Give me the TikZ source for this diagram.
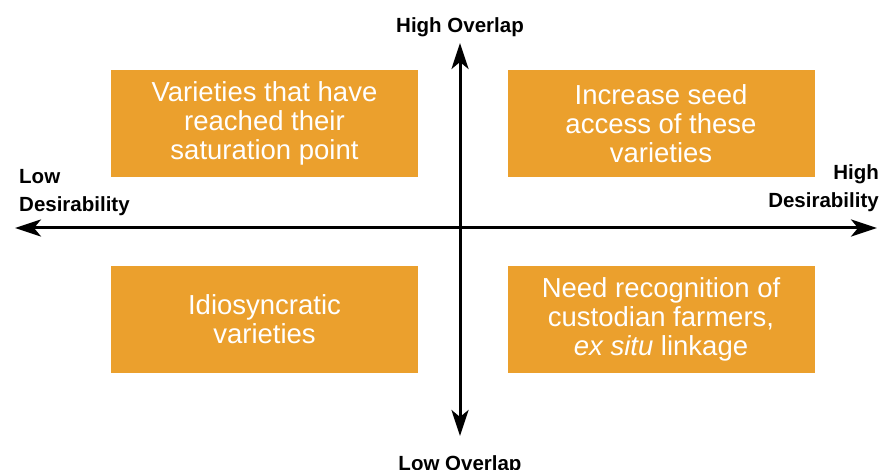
\documentclass[tikz,border=0pt]{standalone}
\usepackage{fontspec}
\setmainfont{Liberation Sans}
\usepackage{xcolor}
\usetikzlibrary{positioning}
\usetikzlibrary{arrows.meta}

\definecolor{quadorange}{RGB}{235,160,45}

\tikzset{
	quadbox/.style={fill=quadorange, text=white, align=center,
		minimum width=307pt, minimum height=107pt, inner sep=0pt,
		font=\fontsize{27.5}{29}\selectfont},
	axislabel/.style={font=\fontsize{20.5}{29}\selectfont\bfseries, inner sep=0pt},
	axisline/.style={line width=3pt, {Stealth[length=26pt,width=17pt,inset=7pt]}-{Stealth[length=26pt,width=17pt,inset=7pt]}}
}

\begin{document}
\begin{tikzpicture}[x=1pt,y=-1pt]
	
	% ------------------------------------------------
	% Ensure the dimensions of graphic are appropriate
	\useasboundingbox (0,0) rectangle (880,470);
	
	% ------------------------------------------------
	% Relevant coordinates
	\coordinate (Left)   at (15,228);
	\coordinate (Right)  at (877,228);
	\coordinate (Top)    at (460,43);
	\coordinate (Bottom) at (460,436);
	
	% ----------------
	% Quadrants
	\node[quadbox] (QuadTL) at (264.5,123.5) {Varieties that have\\reached their\\saturation point};
	\node[quadbox] (QuadTR) at (661,123.5) {Increase seed\\access of these\\varieties};
	\node[quadbox] (QuadBL) at (264.5,319.5) {Idiosyncratic\\varieties};
	\node[quadbox] (QuadBR) at (661,319.5) {Need recognition of\\custodian farmers,\\\textit{ex situ} linkage};
	
	% ----------------
	% Axis labels
	\node[axislabel, anchor=base west] (LabelLow) at (19,184) {Low};
	\node[axislabel, anchor=base west] (LabelLowDes) at (19,212) {Desirability};
	\node[axislabel, anchor=base east] (LabelHigh) at (879,180) {High};
	\node[axislabel, anchor=base east] (LabelHighDes) at (879,208) {Desirability};
	\node[axislabel, anchor=base] (LabelHighOv) at (460,33) {High Overlap};
	\node[axislabel, anchor=base] (LabelLowOv) at (460,470) {Low Overlap};
	
	%%%%%%%%%%%%%%%%%%%%%%%%%%%%%%%%%%%%%%%%%
	% Axes
	\draw[axisline] (Left) -- (Right);
	\draw[axisline] (Bottom) -- (Top);
	
\end{tikzpicture}
\end{document}
